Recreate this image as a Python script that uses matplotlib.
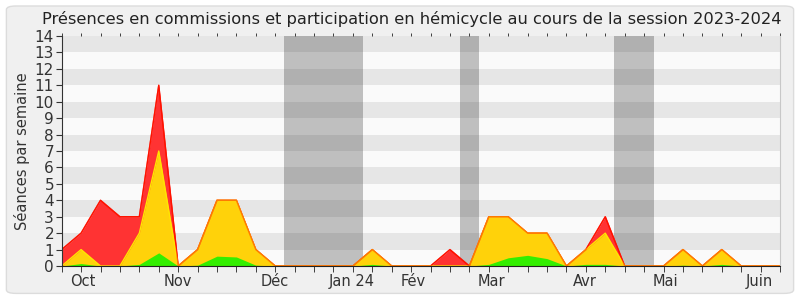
import matplotlib
matplotlib.use('Agg')
import matplotlib.pyplot as plt
from matplotlib.patches import FancyBboxPatch
import numpy as np

# weekly values, one per week from late Sept 2023 to June 2024
weeks = np.arange(38)
red = [1, 2, 4, 3, 3, 11, 0, 1, 4, 4, 1, 0, 0, 0, 0, 0, 1, 0, 0, 0,
       1, 0, 3, 3, 2, 2, 0, 1, 3, 0, 0, 0, 1, 0, 1, 0, 0, 0]
yellow = [0, 1, 0, 0, 2, 7, 0, 1, 4, 4, 1, 0, 0, 0, 0, 0, 1, 0, 0, 0,
          0, 0, 3, 3, 2, 2, 0, 1, 2, 0, 0, 0, 1, 0, 1, 0, 0, 0]
green = [0, 0.15, 0, 0, 0.1, 0.8, 0, 0.05, 0.6, 0.55, 0.05, 0, 0, 0, 0, 0, 0.1, 0, 0, 0,
         0, 0, 0.1, 0.5, 0.65, 0.45, 0, 0.1, 0.1, 0, 0, 0, 0.05, 0, 0.1, 0, 0, 0]

month_labels = ['Oct', 'Nov', 'Déc', 'Jan 24', 'Fév', 'Mar', 'Avr', 'Mai', 'Juin']
month_pos = [1.07, 5.97, 10.95, 14.95, 18.1, 22.13, 26.95, 31.1, 35.95]

# parliamentary breaks (start, end) in weeks
breaks = [(11.45, 15.5), (20.5, 21.5), (28.45, 30.5)]

fig = plt.figure(figsize=(8, 3), dpi=100, facecolor='white')
fig.patches.append(FancyBboxPatch((0.008, 0.022), 0.984, 0.958,
                                  boxstyle='round,pad=0,rounding_size=0.012',
                                  transform=fig.transFigure, facecolor='#f0f0f0',
                                  edgecolor='#dcdcdc', linewidth=1, zorder=-5))
ax = fig.add_axes([0.0771, 0.1133, 0.8979, 0.7667])
ax.set_zorder(2)
ax.set_facecolor('#fafafa')

for b0, b1 in breaks:
    ax.axvspan(b0, b1, color='#bfbfbf', lw=0, zorder=1)
for y in range(1, 14, 2):
    ax.axhspan(y, y + 1, color='black', alpha=0.08, lw=0, zorder=2)

ax.fill_between(weeks, red, color='#ff3333', lw=0, zorder=3)
ax.plot(weeks, red, color='#ff0000', lw=1, zorder=3)
ax.fill_between(weeks, yellow, color='#ffd20a', lw=0, zorder=4)
ax.plot(weeks, yellow, color='#ffe600', lw=1, zorder=4)
ax.fill_between(weeks, green, color='#33ee00', lw=0, zorder=5)
ax.plot(weeks, red, color='#ff2200', lw=1, alpha=0.55, zorder=6)

ax.set_xlim(0, 37)
ax.set_ylim(0, 14)
ax.set_yticks(range(0, 15))
ax.set_xticks(month_pos)
ax.set_xticklabels(month_labels)
ax.set_xticks(weeks, minor=True)
ax.tick_params(axis='x', which='major', length=0, labelsize=10.5, colors='#333333', pad=6)
ax.tick_params(axis='x', which='minor', length=4, direction='out', top=True, color='#222222')
ax.tick_params(axis='y', length=4, labelsize=11, colors='#333333', pad=1.5)
for t in ax.xaxis.get_minor_ticks():
    t.tick2line.set_markersize(2)

ax.spines['top'].set_visible(False)
ax.spines['right'].set_color('#c8c8c8')
ax.spines['left'].set_color('#333333')
ax.spines['bottom'].set_color('#222222')
for s in ax.spines.values():
    s.set_zorder(7)

ax.set_ylabel('Séances par semaine', fontsize=10.5, color='#333333', labelpad=3)
fig.suptitle('Présences en commissions et participation en hémicycle au cours de la session 2023-2024',
             fontsize=11.7, color='#222222', x=0.515, y=0.962, va='top')

fig.savefig('out.png', dpi=100, facecolor=fig.get_facecolor())
